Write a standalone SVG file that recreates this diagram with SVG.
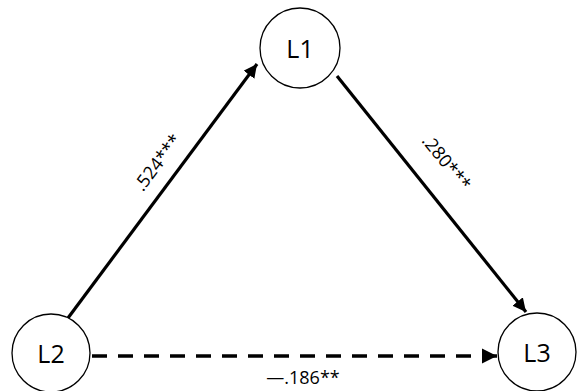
<svg xmlns="http://www.w3.org/2000/svg" width="578" height="391" viewBox="0 0 578 391">
<style>
.node{fill:#fff;stroke:#000;stroke-width:1.3}
.nt{font-family:"Open Sans","Liberation Sans",sans-serif;font-size:25px;fill:#000;text-anchor:middle;dominant-baseline:central}
.edge{stroke:#000;stroke-width:3.2;fill:none}
.dash{stroke-dasharray:15 11;stroke-width:3.6}
.lab{font-family:"Open Sans","Liberation Sans",sans-serif;font-size:18px;fill:#000;text-anchor:middle;dominant-baseline:central}
</style>
<defs>
<marker id="ah" viewBox="0 0 10 10" refX="10" refY="5" markerWidth="4.2" markerHeight="4.2" orient="auto" markerUnits="strokeWidth">
<path d="M0,0 L10,5 L0,10 z" fill="#000"/>
</marker>
</defs>
<rect width="578" height="391" fill="#fff"/>
<g id="connectors">
<line class="edge" x1="68" y1="318" x2="257" y2="64" marker-end="url(#ah)"/>
<line class="edge" x1="337" y1="76" x2="526" y2="312" marker-end="url(#ah)"/>
<line class="edge dash" x1="92" y1="356" x2="497" y2="356" marker-end="url(#ah)"/>
<text class="lab" transform="translate(157,162) rotate(-53)">.524***</text>
<text class="lab" transform="translate(447,162) rotate(51)">.280***</text>
<text class="lab" x="303" y="377">—.186**</text>
</g>
<g id="L1"><circle class="node" cx="300" cy="48" r="40"/><text class="nt" x="300" y="48">L1</text></g>
<g id="L2"><circle class="node" cx="51" cy="353" r="39"/><text class="nt" x="51" y="353">L2</text></g>
<g id="L3"><circle class="node" cx="537" cy="352" r="39"/><text class="nt" x="537" y="352">L3</text></g>
</svg>
